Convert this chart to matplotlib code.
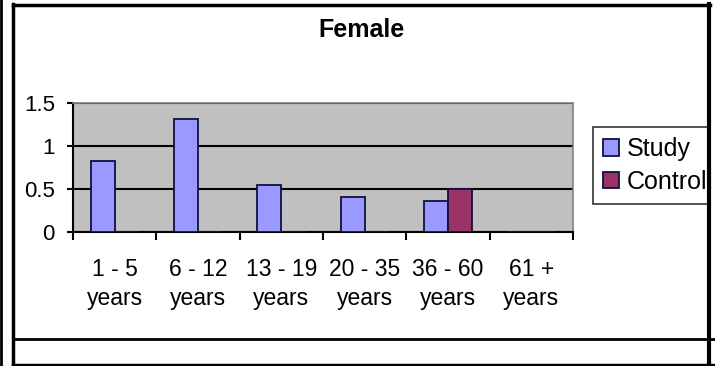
import numpy as np
import matplotlib
matplotlib.use("Agg")
import matplotlib.pyplot as plt
from matplotlib.lines import Line2D

plt.rcParams['font.family'] = ['Liberation Sans', 'DejaVu Sans']

# age groups and the two series
groups = ["1 - 5\nyears", "6 - 12\nyears", "13 - 19\nyears", "20 - 35\nyears", "36 - 60\nyears", "61 +\nyears"]
study = [0.82, 1.31, 0.55, 0.41, 0.36, 0]
control = [0, 0, 0, 0, 0.5, 0]
yticks = [0, 0.5, 1, 1.5]
ytick_labels = ["0", "0.5", "1", "1.5"]

W, H = 715, 366
fig = plt.figure(figsize=(W / 100, H / 100), dpi=100)
fig.patch.set_facecolor("white")

ax = fig.add_axes([73 / W, 1 - 232 / H, 500 / W, 129 / H])
ax.set_facecolor("#C0C0C0")

x = np.arange(len(groups))
w = 0.29
ax.bar(x - w / 2, study, w, color="#9999FF", edgecolor="#101040", linewidth=1.3, label="Study", zorder=3)
ax.bar(x + w / 2, control, w, color="#993366", edgecolor="#101040", linewidth=1.3, label="Control", zorder=3)

ax.set_xlim(-0.5, len(groups) - 0.5)
ax.set_ylim(0, 1.5)
ax.set_yticks(yticks)
ax.set_yticklabels(ytick_labels)
ax.yaxis.grid(True, color="black", linewidth=1.5, zorder=1)
ax.set_axisbelow(True)

# ticks between the categories, labels at the centres
ax.set_xticks(np.arange(len(groups) + 1) - 0.5)
ax.set_xticklabels([])
ax.set_xticks(x, minor=True)
ax.set_xticklabels(groups, minor=True, fontsize=16.5, linespacing=1.3)
ax.tick_params(axis="x", which="minor", length=0, pad=19)
ax.tick_params(axis="x", which="major", direction="out", length=6, width=1.5)
ax.tick_params(axis="y", direction="out", length=4.5, width=1.5, labelsize=16, pad=8.5)

for side in ["top", "right"]:
    ax.spines[side].set_color("#808080")
    ax.spines[side].set_linewidth(1.2)
for side in ["left", "bottom"]:
    ax.spines[side].set_color("black")
    ax.spines[side].set_linewidth(1.5)

fig.text(362 / W, 1 - 30 / H, "Female", ha="center", va="center", fontsize=18, fontweight="bold")

leg = fig.legend(loc="upper left", bbox_to_anchor=(593 / W, 1 - 127 / H), fontsize=18,
                 frameon=True, fancybox=False, edgecolor="black", handlelength=0.65,
                 handleheight=0.65, handletextpad=0.3, borderpad=0.4, labelspacing=0.35,
                 borderaxespad=0)
leg.get_frame().set_linewidth(1.2)

# outer frame of the cell around the chart (drawn over the legend's right end)
def fline(xs, ys, lw):
    fig.add_artist(Line2D([v / W for v in xs], [1 - v / H for v in ys],
                          color="black", linewidth=lw, zorder=10))

fig.add_artist(plt.Rectangle((711 / W, 0), 4 / W, 1, transform=fig.transFigure,
                             facecolor="white", edgecolor="none", zorder=9))
fline([1, 1], [0, 366], 2)
fline([13, 13], [4, 366], 2.5)
fline([13, 710], [5, 5], 2.5)
fline([709, 709], [4, 366], 3)
fline([13, 715], [339, 339], 2)
fline([13, 715], [364.5, 364.5], 2.5)

fig.savefig("out.png", dpi=100)
